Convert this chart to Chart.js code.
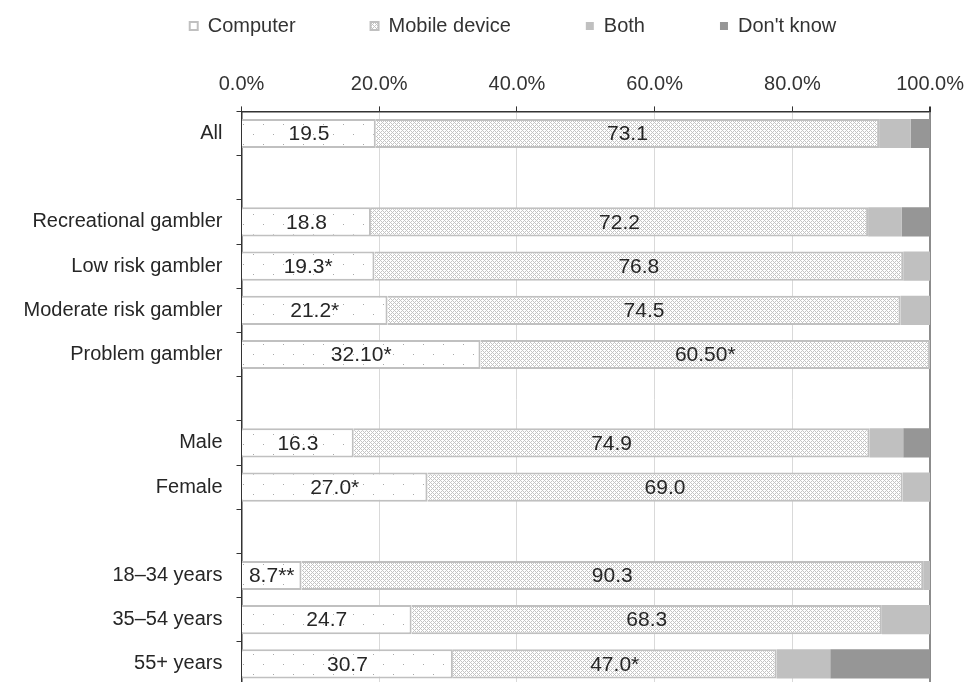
<!DOCTYPE html>
<html>
<head>
<meta charset="utf-8">
<script src="https://cdn.jsdelivr.net/npm/chart.js@4.4.1/dist/chart.umd.min.js"></script>
<style>
  html, body { margin: 0; padding: 0; background: #fff; overflow: hidden; }
  #wrap { width: 974px; height: 686px; }
</style>
</head>
<body>
<div id="wrap"><canvas id="grafico"></canvas></div>
<script>
// categorias (las vacias son separadores entre grupos)
var categorias = ['All', '', 'Recreational gambler', 'Low risk gambler', 'Moderate risk gambler',
    'Problem gambler', '', 'Male', 'Female', '', '18\u201334 years', '35\u201354 years', '55+ years'];

// anchos dibujados de cada segmento (%)
var computador = [19.5, null, 18.8, 19.3, 21.2, 34.7, null, 16.3, 27.0, null, 8.7, 24.7, 30.7];
var movil      = [73.1, null, 72.2, 76.8, 74.5, 65.3, null, 74.9, 69.0, null, 90.3, 68.3, 47.0];
var ambos      = [4.6, null, 4.9, 3.9, 4.3, 0, null, 4.9, 4.0, null, 1.0, 7.0, 7.8];
var noSabe     = [2.8, null, 4.1, 0, 0, 0, null, 3.9, 0, null, 0, 0, 14.5];

// textos que aparecen dentro de las barras
var etiquetasComputador = ['19.5', '', '18.8', '19.3*', '21.2*', '32.10*', '', '16.3', '27.0*', '', '8.7**', '24.7', '30.7'];
var etiquetasMovil = ['73.1', '', '72.2', '76.8', '74.5', '60.50*', '', '74.9', '69.0', '', '90.3', '68.3', '47.0*'];

var marcasX = [0, 20, 40, 60, 80, 100];

var fuente = '"Liberation Sans", Arial, sans-serif';

function patronPuntos() {
    var c = document.createElement('canvas');
    c.width = 20; c.height = 20;
    var g = c.getContext('2d');
    g.fillStyle = '#ffffff';
    g.fillRect(0, 0, 20, 20);
    g.fillStyle = '#a8a8a8';
    g.fillRect(3, 4, 1, 1);
    g.fillRect(13, 14, 1, 1);
    return g.createPattern(c, 'repeat');
}

function patronCruzado() {
    var c = document.createElement('canvas');
    c.width = 8; c.height = 8;
    var g = c.getContext('2d');
    g.fillStyle = '#ffffff';
    g.fillRect(0, 0, 8, 8);
    g.fillStyle = '#c4c4c4';
    for (var x = 0; x < 8; x++) {
        for (var y = 0; y < 8; y++) {
            if ((x + y) % 4 === 0 || (x - y + 8) % 4 === 0) g.fillRect(x, y, 1, 1);
        }
    }
    return g.createPattern(c, 'repeat');
}

var etiquetasSegmentos = {
    id: 'etiquetasSegmentos',
    afterDatasetsDraw: function(chart) {
        var ctx = chart.ctx;
        ctx.save();
        ctx.font = '21px ' + fuente;
        ctx.fillStyle = '#262626';
        ctx.textAlign = 'center';
        ctx.textBaseline = 'middle';
        chart.data.datasets.forEach(function(ds, di) {
            if (!ds.textos) return;
            chart.getDatasetMeta(di).data.forEach(function(barra, i) {
                var t = ds.textos[i];
                if (!t) return;
                var p = barra.getCenterPoint();
                ctx.fillText(t, p.x, p.y + 1);
            });
        });
        ctx.restore();
    }
};

// la leyenda del original no esta centrada en el lienzo
var moverLeyenda = {
    id: 'moverLeyenda',
    afterLayout: function(chart) {
        chart.legend.left += 44;
        chart.legend.right += 44;
    }
};

var ctx = document.getElementById('grafico');
var chart = new Chart(ctx, {
    type: 'bar',
    data: {
        labels: categorias,
        datasets: [{
            label: 'Computer',
            data: computador,
            textos: etiquetasComputador,
            backgroundColor: patronPuntos(),
            borderColor: '#c0c0c0',
            borderWidth: 2
        }, {
            label: 'Mobile device',
            data: movil,
            textos: etiquetasMovil,
            backgroundColor: patronCruzado(),
            borderColor: '#c0c0c0',
            borderWidth: 2
        }, {
            label: 'Both',
            data: ambos,
            backgroundColor: '#c0c0c0',
            borderWidth: 0
        }, {
            label: "Don't know",
            data: noSabe,
            backgroundColor: '#969696',
            borderWidth: 0
        }]
    },
    options: {
        indexAxis: 'y',
        responsive: true,
        maintainAspectRatio: false,
        animation: false,
        barPercentage: 0.66,
        categoryPercentage: 1,
        layout: {
            padding: { top: -59, left: 0, right: 36, bottom: 0 }
        },
        plugins: {
            legend: {
                position: 'top',
                labels: {
                    color: '#333',
                    font: { family: fuente, size: 20 },
                    boxWidth: 8,
                    boxHeight: 8,
                    padding: 75
                }
            },
            tooltip: { enabled: false }
        },
        scales: {
            x: {
                position: 'top',
                stacked: true,
                min: 0,
                max: 100,
                afterBuildTicks: function(scale) {
                    scale.ticks = marcasX.map(function(v) { return { value: v }; });
                },
                afterFit: function(scale) { scale.height = 65.4; },
                ticks: {
                    color: '#333',
                    font: { family: fuente, size: 20 },
                    padding: 10,
                    callback: function(v) { return v.toFixed(1) + '%'; }
                },
                grid: {
                    color: function(c) { return c.tick && c.tick.value === 100 ? '#8c8c8c' : '#d9d9d9'; },
                    lineWidth: function(c) { return c.tick && c.tick.value === 100 ? 2 : 1; },
                    tickColor: '#333',
                    tickLength: 5
                },
                border: { color: '#333', width: 1.5 }
            },
            y: {
                stacked: true,
                afterFit: function(scale) {
                    scale.width = 241.5;
                    scale.paddingTop = 0;
                    scale.paddingBottom = 0;
                },
                ticks: {
                    color: '#262626',
                    font: { family: fuente, size: 20 },
                    padding: 14
                },
                grid: {
                    offset: true,
                    drawOnChartArea: false,
                    tickColor: '#333',
                    tickLength: 5
                },
                border: { color: '#333', width: 1.5 }
            }
        }
    },
    plugins: [etiquetasSegmentos, moverLeyenda]
});
</script>
</body>
</html>
